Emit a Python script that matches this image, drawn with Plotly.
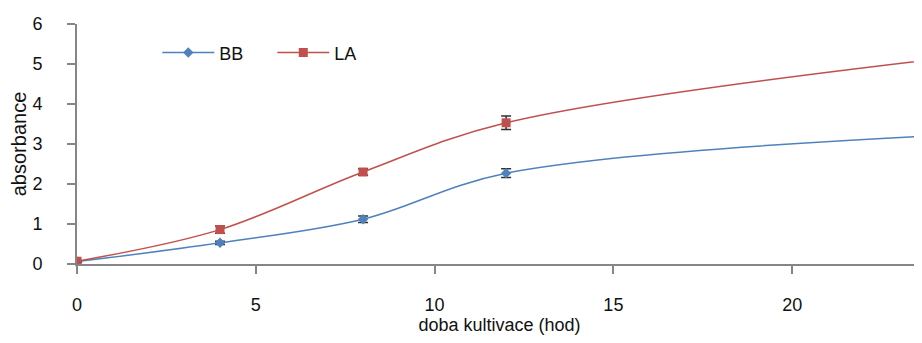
import plotly.graph_objects as go

hours = [0, 4, 8, 12, 24]
bb_values = [0.06, 0.53, 1.12, 2.27, 3.21]
bb_errors = [0.02, 0.04, 0.08, 0.11, 0.1]
la_values = [0.07, 0.86, 2.3, 3.53, 5.12]
la_errors = [0.02, 0.09, 0.08, 0.17, 0.1]

x_ticks = [0, 5, 10, 15, 20]
y_ticks = [0, 1, 2, 3, 4, 5, 6]

BLUE = "#4F81BD"
RED = "#C0504D"
AXIS = "#868686"
FONT = "Liberation Sans"

fig = go.Figure()
fig.add_trace(go.Scatter(
    x=hours, y=bb_values, name="BB", mode="lines+markers",
    line=dict(color=BLUE, width=1.5, shape="spline", smoothing=1),
    marker=dict(symbol="diamond", size=8, color=BLUE),
    error_y=dict(type="data", array=bb_errors, visible=True, color="#303030", thickness=1.5, width=5),
))
fig.add_trace(go.Scatter(
    x=hours, y=la_values, name="LA", mode="lines+markers",
    line=dict(color=RED, width=1.5, shape="spline", smoothing=1),
    marker=dict(symbol="square", size=9, color=RED),
    error_y=dict(type="data", array=la_errors, visible=True, color="#303030", thickness=1.5, width=5),
))

fig.update_layout(
    width=914, height=327,
    margin=dict(l=69, r=0, t=16, b=71),
    paper_bgcolor="white", plot_bgcolor="white",
    font=dict(family=FONT, size=18, color="#111111"),
    showlegend=True,
    legend=dict(orientation="h", x=0.095, y=0.88, xanchor="left", yanchor="middle",
                font=dict(size=18), bgcolor="rgba(0,0,0,0)",
                itemwidth=52, entrywidth=48, entrywidthmode="pixels"),
    xaxis=dict(
        range=[0, 23.63], tickvals=x_ticks, ticktext=[str(v) for v in x_ticks],
        showgrid=False, zeroline=False, showline=True, linecolor=AXIS, linewidth=2,
        ticks="outside", ticklen=8, tickwidth=2, tickcolor=AXIS,
        ticklabelstandoff=15, automargin=False,
        title=dict(text="doba kultivace (hod)", font=dict(size=18), standoff=7),
    ),
    yaxis=dict(
        range=[0, 6], tickvals=y_ticks,
        showgrid=False, zeroline=False, showline=True, linecolor=AXIS, linewidth=2,
        ticks="outside", ticklen=8, tickwidth=2, tickcolor=AXIS,
        ticklabelstandoff=21, automargin=False,
        title=dict(text="absorbance", font=dict(size=20), standoff=6),
    ),
)

fig.write_html("out.html")
